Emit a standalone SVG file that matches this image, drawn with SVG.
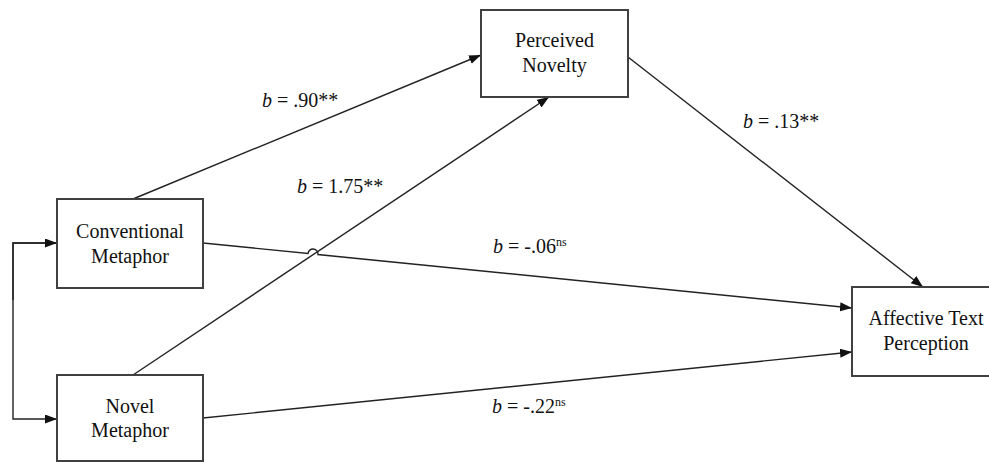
<svg xmlns="http://www.w3.org/2000/svg" width="989" height="462" viewBox="0 0 989 462">
<style>
.box{fill:#fff;stroke:#404040;stroke-width:2}
.t{font-family:'Liberation Serif','Times New Roman','DejaVu Serif',serif;font-size:20px;fill:#111;text-anchor:middle}
.lbl{font-family:'Liberation Serif','Times New Roman','DejaVu Serif',serif;font-size:20px;fill:#111}
.sup{font-size:12px}
.ln{fill:none;stroke:#222;stroke-width:1.4}
</style>
<defs>
<marker id="ah" markerUnits="userSpaceOnUse" markerWidth="12" markerHeight="10" refX="12" refY="4.5" orient="auto">
<path d="M0,0 L12,4.5 L0,9 z" fill="#111"/>
</marker>
</defs>
<rect width="989" height="462" fill="#fff"/>
<g id="connectors">
<path class="ln" d="M57,243 L13,243 L13,419 L57,419" marker-end="url(#ah)"/>
<path class="ln" d="M13,300 L13,243 L57,243" marker-end="url(#ah)"/>
<line class="ln" x1="133" y1="199" x2="481" y2="55" marker-end="url(#ah)"/>
<line class="ln" x1="133" y1="375" x2="549" y2="97" marker-end="url(#ah)"/>
<line class="ln" x1="628" y1="57" x2="923" y2="287" marker-end="url(#ah)"/>
<path class="ln" d="M203,243 L308,253.5 A5,5 0 0 1 318,254.5 L852,308" marker-end="url(#ah)"/>
<line class="ln" x1="203" y1="418" x2="852" y2="352" marker-end="url(#ah)"/>
</g>
<g id="labels">
<text class="lbl" x="262" y="107"><tspan font-style="italic">b</tspan> = .90**</text>
<text class="lbl" x="297" y="193"><tspan font-style="italic">b</tspan> = 1.75**</text>
<text class="lbl" x="493" y="253"><tspan font-style="italic">b</tspan> = -.06<tspan class="sup" dy="-7">ns</tspan></text>
<text class="lbl" x="492" y="413"><tspan font-style="italic">b</tspan> = -.22<tspan class="sup" dy="-7">ns</tspan></text>
<text class="lbl" x="743" y="128"><tspan font-style="italic">b</tspan> = .13**</text>
</g>
<g id="conventional">
<rect class="box" x="57" y="199" width="146" height="89"/>
<text class="t" x="130" y="238">Conventional</text>
<text class="t" x="130" y="263">Metaphor</text>
</g>
<g id="novel">
<rect class="box" x="57" y="375" width="146" height="86"/>
<text class="t" x="130" y="413">Novel</text>
<text class="t" x="130" y="437">Metaphor</text>
</g>
<g id="perceived">
<rect class="box" x="481" y="10" width="147" height="87"/>
<text class="t" x="554.5" y="47">Perceived</text>
<text class="t" x="554.5" y="72">Novelty</text>
</g>
<g id="affective">
<rect class="box" x="852" y="287" width="148" height="89"/>
<text class="t" x="926" y="325">Affective Text</text>
<text class="t" x="926" y="350">Perception</text>
</g>
</svg>
